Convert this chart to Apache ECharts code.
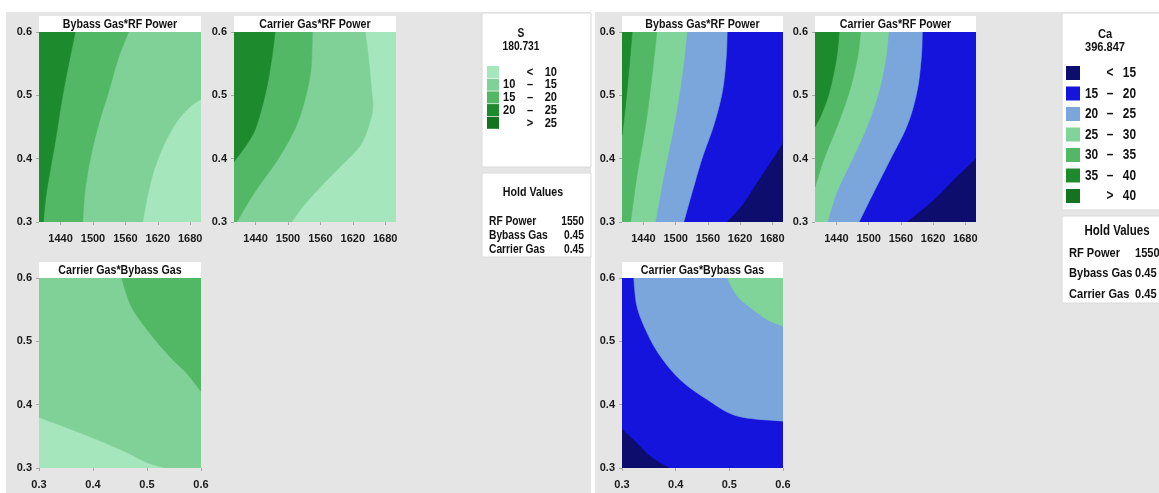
<!DOCTYPE html>
<html><head><meta charset="utf-8">
<script src="https://cdn.jsdelivr.net/npm/echarts@6/dist/echarts.min.js"></script>
<style>html,body{margin:0;padding:0;background:#fff}#c{width:1159px;height:493px}</style>
</head><body><div id="c"></div><script>
const FONT = '"Liberation Sans", Arial, sans-serif';
const NARROW = 0.82; // horizontal squeeze to mimic a narrow face

// ---- tick labels ----
const rfTicks = [1440, 1500, 1560, 1620, 1680];
const gasTicksX = [0.3, 0.4, 0.5, 0.6];
const gasTicksY = [0.3, 0.4, 0.5, 0.6];

// ---- titles ----
const titles = ['Bybass Gas*RF Power', 'Carrier Gas*RF Power', 'Carrier Gas*Bybass Gas'];

// ---- legends ----
const sName = 'S', sValue = '180.731';
const sBreaks = [10, 15, 20, 25];
const sColors = ['#a6e6bd', '#80d197', '#52b866', '#1e8a2e', '#14731f'];
const caName = 'Ca', caValue = '396.847';
const caBreaks = [15, 20, 25, 30, 35, 40];
const caColors = ['#0d0d6e', '#1414dc', '#7ba6dc', '#80d49a', '#52b866', '#1e8a2e', '#14731f'];
const holdNames = ['RF Power', 'Bybass Gas', 'Carrier Gas'];
const holdValues = ['1550', '0.45', '0.45'];

// ---- contour regions: [level index, contour line (data units), closing corners] ----
const sBybassRF = [
  [0, [], [[1400,0.3],[1700,0.3],[1700,0.6],[1400,0.6]]],
  [1, [[1592,0.3],[1600,0.337],[1612,0.379],[1631,0.421],[1655,0.458],[1680,0.482],[1700,0.494]], [[1700,0.6],[1400,0.6],[1400,0.3]]],
  [2, [[1481,0.3],[1485,0.348],[1495,0.4],[1510,0.453],[1529,0.506],[1547,0.559],[1566,0.6]], [[1400,0.6],[1400,0.3]]],
  [3, [[1408,0.3],[1414,0.348],[1430,0.427],[1445,0.506],[1467,0.6]], [[1400,0.6],[1400,0.3]]]
];
const sCarrierRF = [
  [0, [], [[1400,0.3],[1700,0.3],[1700,0.6],[1400,0.6]]],
  [1, [[1507,0.3],[1529,0.326],[1563,0.358],[1600,0.39],[1634,0.421],[1650,0.453],[1657,0.479],[1655,0.506],[1649,0.559],[1643,0.6]], [[1400,0.6],[1400,0.3]]],
  [2, [[1405,0.3],[1439,0.348],[1482,0.4],[1516,0.453],[1535,0.506],[1543,0.547],[1545,0.6]], [[1400,0.6],[1400,0.3]]],
  [3, [[1400,0.395],[1427,0.427],[1442,0.453],[1459,0.506],[1470,0.559],[1476,0.6]], [[1400,0.6]]]
];
const sCarrierBybass = [
  [1, [], [[0.3,0.3],[0.6,0.3],[0.6,0.6],[0.3,0.6]]],
  [0, [[0.3,0.379],[0.351,0.363],[0.413,0.342],[0.462,0.324],[0.499,0.308],[0.53,0.3]], [[0.3,0.3]]],
  [2, [[0.453,0.6],[0.471,0.555],[0.505,0.513],[0.542,0.476],[0.573,0.45],[0.6,0.421]], [[0.6,0.6]]]
];
const caBybassRF = [
  [1, [], [[1400,0.3],[1700,0.3],[1700,0.6],[1400,0.6]]],
  [0, [[1596,0.3],[1624,0.326],[1649,0.358],[1674,0.39],[1700,0.424]], [[1700,0.3]]],
  [2, [[1515,0.3],[1531,0.348],[1549,0.4],[1571,0.453],[1587,0.506],[1594,0.559],[1596,0.6]], [[1400,0.6],[1400,0.3]]],
  [3, [[1462,0.3],[1478,0.374],[1497,0.453],[1512,0.532],[1521,0.6]], [[1400,0.6],[1400,0.3]]],
  [4, [[1416,0.3],[1428,0.374],[1444,0.453],[1456,0.532],[1465,0.6]], [[1400,0.6],[1400,0.3]]],
  [5, [[1400,0.437],[1406,0.48],[1412,0.532],[1419,0.6]], [[1400,0.6]]]
];
const caCarrierRF = [
  [1, [], [[1400,0.3],[1700,0.3],[1700,0.6],[1400,0.6]]],
  [0, [[1572,0.3],[1618,0.332],[1662,0.369],[1700,0.4]], [[1700,0.3]]],
  [2, [[1482,0.3],[1510,0.348],[1541,0.4],[1572,0.453],[1590,0.506],[1598,0.559],[1600,0.6]], [[1400,0.6],[1400,0.3]]],
  [3, [[1423,0.3],[1441,0.348],[1470,0.4],[1498,0.453],[1519,0.506],[1532,0.559],[1537,0.6]], [[1400,0.6],[1400,0.3]]],
  [4, [[1400,0.355],[1417,0.4],[1442,0.453],[1464,0.506],[1479,0.559],[1485,0.6]], [[1400,0.6]]],
  [5, [[1400,0.45],[1412,0.47],[1427,0.506],[1440,0.559],[1445,0.6]], [[1400,0.6]]]
];
const caCarrierBybass = [
  [1, [], [[0.3,0.3],[0.6,0.3],[0.6,0.6],[0.3,0.6]]],
  [2, [[0.322,0.6],[0.328,0.555],[0.347,0.513],[0.372,0.476],[0.409,0.439],[0.459,0.408],[0.515,0.382],[0.6,0.374]], [[0.6,0.6]]],
  [3, [[0.496,0.6],[0.515,0.571],[0.54,0.553],[0.571,0.534],[0.6,0.524]], [[0.6,0.6]]],
  [0, [[0.3,0.361],[0.328,0.339],[0.353,0.318],[0.387,0.3]], [[0.3,0.3]]]
];

// ---- layout ----
const grids = [
  {left: 39,  top: 32,  width: 162, height: 190},
  {left: 234, top: 32,  width: 162, height: 190},
  {left: 39,  top: 278, width: 162, height: 190},
  {left: 622, top: 32,  width: 161, height: 190},
  {left: 815, top: 32,  width: 161, height: 190},
  {left: 622, top: 278, width: 161, height: 190}
];
const plots = [
  {x: 'rf',  regions: sBybassRF,       colors: sColors,  title: titles[0]},
  {x: 'rf',  regions: sCarrierRF,      colors: sColors,  title: titles[1]},
  {x: 'gas', regions: sCarrierBybass,  colors: sColors,  title: titles[2]},
  {x: 'rf',  regions: caBybassRF,      colors: caColors, title: titles[0]},
  {x: 'rf',  regions: caCarrierRF,     colors: caColors, title: titles[1]},
  {x: 'gas', regions: caCarrierBybass, colors: caColors, title: titles[2]}
];

const labelStyle = {fontFamily: FONT, fontWeight: 'bold', fontSize: 11, color: '#1a1a1a'};
const tickStyle = {show: true, length: 3, lineStyle: {color: '#a8a8a8', width: 1}};

const xAxes = plots.map((p, i) => {
  const isRf = p.x === 'rf';
  const ticks = isRf ? rfTicks : gasTicksX;
  return {
    gridIndex: i, type: 'value',
    min: isRf ? 1400 : 0.3, max: isRf ? 1700 : 0.6,
    axisLine: {show: false}, splitLine: {show: false},
    axisTick: Object.assign({customValues: ticks}, tickStyle),
    axisLabel: Object.assign({customValues: ticks, margin: 11,
      formatter: v => isRf ? String(v) : v.toFixed(1)}, labelStyle)
  };
});
const yAxes = plots.map((p, i) => ({
  gridIndex: i, type: 'value', min: 0.3, max: 0.6,
  axisLine: {show: false}, splitLine: {show: false},
  axisTick: Object.assign({customValues: gasTicksY}, tickStyle),
  axisLabel: Object.assign({customValues: gasTicksY, margin: 7,
    formatter: v => v.toFixed(1)}, labelStyle)
}));

// smooth pixel-space rendering of a contour line through its read points
function smoothLine(px) {
  if (px.length < 3) return px.slice();
  const out = [];
  const n = 10;
  for (let i = 0; i < px.length - 1; i++) {
    const p0 = px[i - 1] || px[i], p1 = px[i], p2 = px[i + 1], p3 = px[i + 2] || px[i + 1];
    for (let s = 0; s < n; s++) {
      const t = s / n, t2 = t * t, t3 = t2 * t;
      out.push([0, 1].map(d => 0.5 * ((2 * p1[d]) + (-p0[d] + p2[d]) * t +
        (2 * p0[d] - 5 * p1[d] + 4 * p2[d] - p3[d]) * t2 + (-p0[d] + 3 * p1[d] - 3 * p2[d] + p3[d]) * t3)));
    }
  }
  out.push(px[px.length - 1]);
  return out;
}

const series = plots.map((p, i) => ({
  type: 'custom', xAxisIndex: i, yAxisIndex: i, clip: true, silent: true,
  data: p.regions.map(r => (r[1][0] || r[2][0])),
  renderItem: (params, api) => {
    const r = p.regions[params.dataIndex];
    const pts = smoothLine(r[1].map(pt => api.coord(pt))).concat(r[2].map(pt => api.coord(pt)));
    const col = p.colors[r[0]];
    return {type: 'polygon', shape: {points: pts},
      style: {fill: col, stroke: col, lineWidth: 0.6}};
  }
}));

// ---- graphic: backgrounds, title boxes, legends ----
const graphics = [];
graphics.push({type: 'rect', z: -5, shape: {x: 6, y: 12, width: 585, height: 481}, style: {fill: '#e5e5e5'}});
graphics.push({type: 'rect', z: -5, shape: {x: 595, y: 12, width: 564, height: 481}, style: {fill: '#e5e5e5'}});

function txt(text, x, y, size, align) {
  return {type: 'text', z: 6, x, y, scaleX: NARROW,
    style: {text, x: 0, y: 0, textAlign: align, align, textVerticalAlign: 'middle', verticalAlign: 'middle',
      font: 'bold ' + size + 'px ' + FONT, fill: '#111'}};
}

grids.forEach((g, i) => {
  const bh = 16;
  graphics.push({type: 'rect', z: 5, shape: {x: g.left, y: g.top - bh, width: g.width, height: bh}, style: {fill: '#ffffff'}});
  graphics.push(txt(plots[i].title, g.left + g.width / 2, g.top - bh / 2 + 0.5, 13, 'center'));
});

function legendBlock(o) {
  graphics.push({type: 'rect', z: 5, shape: {x: o.x, y: o.y, width: o.w, height: o.h}, style: {fill: '#fff', stroke: '#dadada', lineWidth: 1}});
  graphics.push(txt(o.name, o.cx, o.y + 21, o.fs, 'center'));
  graphics.push(txt(o.value, o.cx, o.y + 34, o.fs, 'center'));
  const b = o.breaks;
  o.colors.forEach((col, k) => {
    const yy = o.rowY + k * o.step;
    graphics.push({type: 'rect', z: 6, shape: {x: o.swX, y: yy - o.sw / 2, width: o.sw, height: o.sw}, style: {fill: col}});
    if (k === 0) {
      graphics.push(txt('<', o.symX, yy, o.fs + 1, 'center'));
      graphics.push(txt(String(b[0]), o.hiX, yy, o.fs + 1, 'right'));
    } else if (k === b.length) {
      graphics.push(txt('>', o.symX, yy, o.fs + 1, 'center'));
      graphics.push(txt(String(b[k - 1]), o.hiX, yy, o.fs + 1, 'right'));
    } else {
      graphics.push(txt(String(b[k - 1]), o.loX, yy, o.fs + 1, 'left'));
      graphics.push(txt('–', o.symX, yy, o.fs + 1, 'center'));
      graphics.push(txt(String(b[k]), o.hiX, yy, o.fs + 1, 'right'));
    }
  });
  graphics.push({type: 'rect', z: 5, shape: {x: o.x, y: o.hy, width: o.w, height: o.hh}, style: {fill: '#fff', stroke: '#dadada', lineWidth: 1}});
  graphics.push(txt('Hold Values', o.hcx, o.hy + o.ht, o.fs + 0.5, 'center'));
  holdNames.forEach((n, k) => {
    const yy = o.hy + o.hr0 + k * o.hstep;
    graphics.push(txt(n, o.x + 7, yy, o.fs, 'left'));
    graphics.push(txt(holdValues[k], o.valX, yy, o.fs, o.valAlign));
  });
}
legendBlock({x: 482, y: 13, w: 109, h: 154, name: sName, value: sValue, cx: 521, fs: 12.5,
  breaks: sBreaks, colors: sColors, rowY: 72, step: 12.7, swX: 487, sw: 12,
  loX: 503, symX: 530, hiX: 557,
  hy: 173, hh: 84, hcx: 533, ht: 19, hr0: 49, hstep: 13.8, valX: 584, valAlign: 'right'});
legendBlock({x: 1062, y: 13, w: 110, h: 197, name: caName, value: caValue, cx: 1105, fs: 13.5,
  breaks: caBreaks, colors: caColors, rowY: 73, step: 20.5, swX: 1066, sw: 14,
  loX: 1085, symX: 1110, hiX: 1136,
  hy: 216, hh: 87, hcx: 1117, ht: 15, hr0: 37, hstep: 20.4, valX: 1135, valAlign: 'left'});

const chart = echarts.init(document.getElementById('c'));
chart.setOption({
  animation: false,
  backgroundColor: '#ffffff',
  grid: grids,
  xAxis: xAxes,
  yAxis: yAxes,
  series,
  graphic: {elements: graphics}
});
</script></body></html>
